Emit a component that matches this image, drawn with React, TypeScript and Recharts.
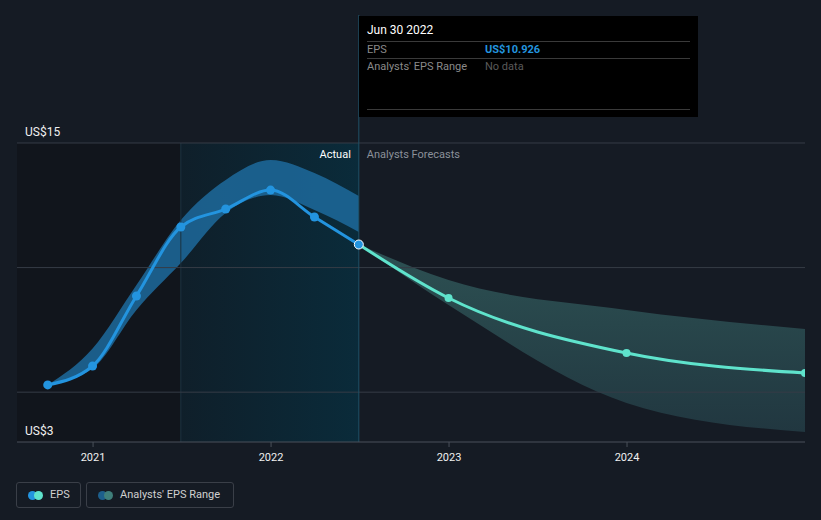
import React from "react";
import {
  ComposedChart,
  Line,
  Area,
  XAxis,
  YAxis,
  ReferenceLine,
  ReferenceArea,
} from "recharts";

// ---- data ----
const actualDates = [
  "2020-09-30",
  "2020-12-31",
  "2021-03-31",
  "2021-06-30",
  "2021-09-30",
  "2021-12-31",
  "2022-03-31",
  "2022-06-30",
];
const actualEps = [5.29, 6.05, 8.86, 11.63, 12.35, 13.11, 12.03, 10.926];
const pastRangeLow = [5.29, 5.95, 8.3, 10.18, 12.19, 12.91, 12.31, 11.43];
const pastRangeHigh = [5.29, 6.75, 9.3, 11.91, 13.52, 14.32, 13.8, 12.87];

const forecastDates = ["2022-06-30", "2022-12-31", "2023-12-31", "2024-12-31"];
const forecastEps = [10.926, 8.78, 6.57, 5.77];
const forecastLow = [10.926, 8.5, 4.57, 3.4];
const forecastHigh = [10.926, 9.5, 8.3, 7.54];

const xTickDates = ["2021-01-01", "2022-01-01", "2023-01-01", "2024-01-01"];
const xTickLabels = ["2021", "2022", "2023", "2024"];
const yLabelValues = [3, 15];
const yLabels: Record<number, string> = { 3: "US$3", 15: "US$15" };
const gridValues = [5, 10, 15];

const domainStart = "2020-07-29";
const domainEnd = "2024-12-31";
const shadeStart = "2021-06-30";
const todayDate = "2022-06-30";
const yMin = 3;
const yMax = 20.137;

// ---- helpers ----
const ts = (d: string) => new Date(d + "T00:00:00Z").getTime();

type Row = {
  t: number;
  eps?: number;
  pastRange?: [number, number];
  fc?: number;
  fcRange?: [number, number];
};

const rowsMap = new Map<number, Row>();
const getRow = (d: string) => {
  const t = ts(d);
  if (!rowsMap.has(t)) rowsMap.set(t, { t });
  return rowsMap.get(t)!;
};
actualDates.forEach((d, i) => {
  const r = getRow(d);
  r.eps = actualEps[i];
  r.pastRange = [pastRangeLow[i], pastRangeHigh[i]];
});
forecastDates.forEach((d, i) => {
  const r = getRow(d);
  r.fc = forecastEps[i];
  r.fcRange = [forecastLow[i], forecastHigh[i]];
});
const data = Array.from(rowsMap.values()).sort((a, b) => a.t - b.t);

const BG = "#151b24";
const BLUE = "#2394df";
const TEAL = "#5fe3cc";
const FONT = "Roboto, 'Noto Sans', sans-serif";

const XTick = (props: any) => {
  const { x, y, payload } = props;
  const idx = xTickDates.findIndex((d) => ts(d) === payload.value);
  return (
    <text
      x={x}
      y={y + 12}
      fill="#f0f0f0"
      fontSize={11}
      fontFamily={FONT}
      textAnchor="middle"
    >
      {idx >= 0 ? xTickLabels[idx] : ""}
    </text>
  );
};

const makeYLabel = (v: number) => (props: any) => {
  const vb = props.viewBox || {};
  return (
    <text
      x={(vb.x || 0) + 8}
      y={(vb.y || 0) - 7}
      fill="#f0f0f0"
      fontSize={12}
      fontFamily={FONT}
    >
      {yLabels[v]}
    </text>
  );
};

const ActualDot = (props: any) => {
  const { cx, cy, index } = props;
  if (cx == null || cy == null) return null;
  const last = props.payload && props.payload.t === ts(todayDate);
  return (
    <circle
      key={"ad" + index}
      cx={cx}
      cy={cy}
      r={4.5}
      fill={BLUE}
      stroke={last ? "#ffffff" : BLUE}
      strokeWidth={last ? 1 : 0}
    />
  );
};

const FcDot = (props: any) => {
  const { cx, cy, index } = props;
  if (cx == null || cy == null) return null;
  if (props.payload && props.payload.t === ts(todayDate)) return null;
  return <circle key={"fd" + index} cx={cx} cy={cy} r={4} fill={TEAL} />;
};

const DividerLabel = (props: any) => {
  const vb = props.viewBox || {};
  const x = vb.x;
  return (
    <g>
      <text
        x={x - 8}
        y={158}
        fill="#ffffff"
        fontSize={11}
        fontFamily={FONT}
        textAnchor="end"
      >
        Actual
      </text>
      <text x={x + 8} y={158} fill="#8b9099" fontSize={11} fontFamily={FONT}>
        Analysts Forecasts
      </text>
    </g>
  );
};

export default function App() {
  return (
    <div
      style={{
        position: "absolute",
        left: 0,
        top: 0,
        width: 821,
        height: 520,
        background: BG,
        fontFamily: FONT,
      }}
    >
      <ComposedChart
        width={821}
        height={520}
        data={data}
        margin={{ top: 15, right: 16, bottom: 48, left: 17 }}
      >
        <defs>
          <linearGradient id="hl" x1="0" y1="0" x2="1" y2="0">
            <stop offset="0%" stopColor="#0f1f2a" />
            <stop offset="100%" stopColor="#0a2b3a" />
          </linearGradient>
          <linearGradient id="fcband" x1="0" y1="0" x2="0" y2="1">
            <stop offset="0%" stopColor="#2d5153" />
            <stop offset="100%" stopColor="#213740" />
          </linearGradient>
        </defs>
        <XAxis
          dataKey="t"
          type="number"
          scale="time"
          domain={[ts(domainStart), ts(domainEnd)]}
          ticks={xTickDates.map(ts)}
          tick={<XTick />}
          axisLine={{ stroke: "#4a505a" }}
          tickLine={{ stroke: "#4a505a" }}
          tickSize={5}
          height={30}
          allowDataOverflow
        />
        <YAxis
          type="number"
          domain={[yMin, yMax]}
          hide
          allowDataOverflow
        />
        <ReferenceArea
          x1={ts(domainStart)}
          x2={ts(shadeStart)}
          y1={yMin}
          y2={15}
          fill="#11151c"
          fillOpacity={1}
          stroke="none"
        />
        <ReferenceArea
          x1={ts(shadeStart)}
          x2={ts(todayDate)}
          y1={yMin}
          y2={15}
          fill="url(#hl)"
          fillOpacity={1}
          stroke="none"
        />
        <ReferenceLine
          segment={[
            { x: ts(shadeStart), y: yMin },
            { x: ts(shadeStart), y: 15 },
          ]}
          stroke="#1c3340"
          strokeWidth={1}
        />
        {gridValues.map((v) => (
          <ReferenceLine key={v} y={v} stroke="#363c46" strokeWidth={1} />
        ))}
        {yLabelValues.map((v) => (
          <ReferenceLine
            key={"yl" + v}
            y={v}
            stroke="none"
            strokeOpacity={0}
            label={makeYLabel(v)}
          />
        ))}
        <ReferenceLine
          x={ts(todayDate)}
          stroke="#1f5166"
          strokeWidth={1}
          label={<DividerLabel />}
        />
        <Area
          dataKey="pastRange"
          type="monotone"
          fill="#1d6a9c"
          fillOpacity={0.85}
          stroke="none"
          isAnimationActive={false}
          connectNulls
          activeDot={false}
        />
        <Area
          dataKey="fcRange"
          type="monotone"
          fill="url(#fcband)"
          fillOpacity={1}
          stroke="none"
          isAnimationActive={false}
          connectNulls
          activeDot={false}
        />
        <Line
          dataKey="fc"
          type="monotone"
          stroke={TEAL}
          strokeWidth={3}
          dot={<FcDot />}
          isAnimationActive={false}
          connectNulls
          activeDot={false}
        />
        <Line
          dataKey="eps"
          type="monotone"
          stroke={BLUE}
          strokeWidth={3}
          dot={<ActualDot />}
          isAnimationActive={false}
          connectNulls
          activeDot={false}
        />
      </ComposedChart>

      {/* tooltip panel */}
      <div
        style={{
          position: "absolute",
          left: 359,
          top: 16,
          width: 339,
          height: 101,
          background: "#000000",
          fontSize: 11,
          fontFamily: FONT,
        }}
      >
        <div
          style={{
            position: "absolute",
            left: 8,
            top: 7,
            color: "#ffffff",
            fontSize: 12,
          }}
        >
          Jun 30 2022
        </div>
        <div
          style={{
            position: "absolute",
            left: 8,
            right: 8,
            top: 25,
            borderTop: "1px solid #3a3a3a",
          }}
        />
        <div style={{ position: "absolute", left: 8, top: 27, color: "#8a8a8a" }}>
          EPS
        </div>
        <div
          style={{
            position: "absolute",
            left: 126,
            top: 27,
            color: BLUE,
            fontWeight: 700,
          }}
        >
          US$10.926
        </div>
        <div
          style={{
            position: "absolute",
            left: 8,
            right: 8,
            top: 42,
            borderTop: "1px solid #3a3a3a",
          }}
        />
        <div style={{ position: "absolute", left: 8, top: 44, color: "#8a8a8a" }}>
          Analysts' EPS Range
        </div>
        <div style={{ position: "absolute", left: 126, top: 44, color: "#5a5a5a" }}>
          No data
        </div>
        <div
          style={{
            position: "absolute",
            left: 8,
            right: 8,
            top: 93,
            borderTop: "1px solid #3a3a3a",
          }}
        />
      </div>

      {/* legend */}
      <div
        style={{
          position: "absolute",
          left: 16,
          top: 482,
          width: 65,
          height: 26,
          border: "1px solid #3a3f48",
          borderRadius: 3,
          boxSizing: "border-box",
        }}
      >
        <span style={{ position: "absolute", left: 11, top: 8, width: 9, height: 9, borderRadius: 5, background: BLUE }} />
        <span style={{ position: "absolute", left: 17, top: 8, width: 9, height: 9, borderRadius: 5, background: TEAL }} />
        <span style={{ position: "absolute", left: 33, top: 5, color: "#d0d0d0", fontSize: 11 }}>EPS</span>
      </div>
      <div
        style={{
          position: "absolute",
          left: 86,
          top: 482,
          width: 148,
          height: 26,
          border: "1px solid #3a3f48",
          borderRadius: 3,
          boxSizing: "border-box",
        }}
      >
        <span style={{ position: "absolute", left: 11, top: 8, width: 9, height: 9, borderRadius: 5, background: "#1d5f8c" }} />
        <span style={{ position: "absolute", left: 17, top: 8, width: 9, height: 9, borderRadius: 5, background: "#3f7f7b" }} />
        <span style={{ position: "absolute", left: 33, top: 5, color: "#d0d0d0", fontSize: 11 }}>Analysts' EPS Range</span>
      </div>
    </div>
  );
}
